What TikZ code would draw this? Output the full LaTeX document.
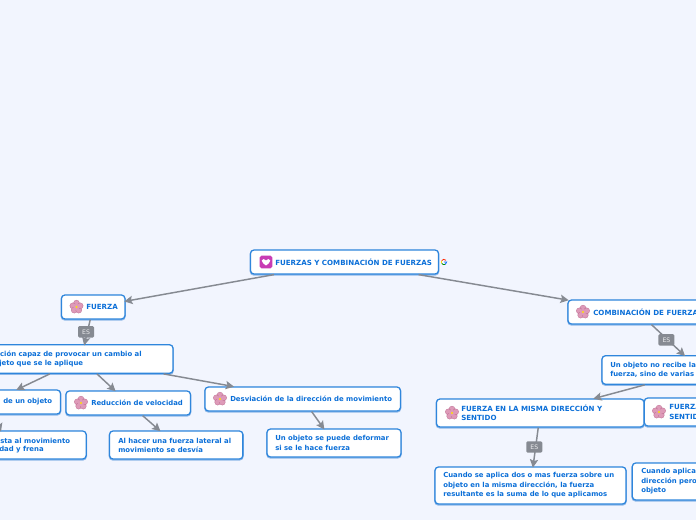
\documentclass[tikz,border=0pt]{standalone}
\usepackage{fontspec}
\setmainfont{DejaVu Sans}
\usetikzlibrary{arrows.meta}
\definecolor{bg}{HTML}{F2F5FE}
\definecolor{edge}{HTML}{2F86DC}
\definecolor{shad}{HTML}{8FB8E8}
\definecolor{ink}{HTML}{0B6FD8}
\definecolor{conn}{HTML}{868A92}
\definecolor{petal}{HTML}{DE9AB8}
\definecolor{petald}{HTML}{B9668C}
\definecolor{heartbg}{HTML}{C83CB4}
\tikzset{
  x=0.75pt,y=-0.75pt,
  box/.style={draw=edge,fill=white,line width=0.95pt,rounded corners=2.6pt,inner sep=0pt,
    preaction={draw=shad,line width=1.3pt,transform canvas={yshift=-0.6pt}}},
  txt/.style={anchor=west,text=ink,inner sep=0pt,align=left,font=\fontsize{5.17}{7.1}\selectfont\bfseries},
  caps/.style={txt,font=\fontsize{5.32}{7.1}\selectfont\bfseries},
  link/.style={draw=conn,line width=1.1pt,shorten >=-1pt,-{Stealth[length=6.2pt,width=6.2pt,inset=1.2pt]}},
  esbox/.style={fill=conn,rounded corners=1pt,text=white!85!conn,inner sep=0pt,minimum width=12pt,minimum height=8.6pt,xshift=-1pt,font=\fontsize{4.6}{5}\selectfont},
  pics/flower/.style={code={
    \foreach \a in {90,162,234,306,18}{\fill[petal,draw=petald,line width=.2pt] (\a:2.9pt) circle (2.25pt);}
    \fill[petal] (0,0) circle (2.4pt);
    \fill[yellow!85!orange] (0,0) circle (.8pt);
  }},
  pics/heart/.style={code={
    \fill[rounded corners=1.2pt,fill=heartbg] (-4.7pt,-4.7pt) rectangle (4.7pt,4.7pt);
    \fill[white] (0,-2.6pt) .. controls (-1pt,-1.6pt) and (-3.4pt,-0.6pt) .. (-3.2pt,1pt)
      .. controls (-3.1pt,2.6pt) and (-0.8pt,2.6pt) .. (0,1.2pt)
      .. controls (0.8pt,2.6pt) and (3.1pt,2.6pt) .. (3.2pt,1pt)
      .. controls (3.4pt,-0.6pt) and (1pt,-1.6pt) .. (0,-2.6pt) -- cycle;
  }},
}
\begin{document}
\begin{tikzpicture}
\fill[bg] (0,0) rectangle (696,520);
\useasboundingbox (0,0) rectangle (696,520);
\clip (0,0) rectangle (696,520);

% boxes
\node[box,minimum width=141pt,minimum height=18pt] (root) at (344.5,262) {};
\node[box,minimum width=47.6pt,minimum height=18pt] (fuerza) at (93.2,307) {};
\node[box,minimum width=138pt,minimum height=21.4pt] (def) at (81,359) {};
\node[box,minimum width=104.25pt,minimum height=18pt] (acel) at (-9,402) {};
\node[box,minimum width=93.4pt,minimum height=18pt] (redu) at (128.2,403) {};
\node[box,minimum width=146.6pt,minimum height=18pt] (desv) at (302.7,399) {};
\node[box,minimum width=121pt,minimum height=21pt] (sta) at (5.5,445) {};
\node[box,minimum width=100pt,minimum height=21pt] (hacer) at (176.2,445) {};
\node[box,minimum width=100.5pt,minimum height=21pt] (defo) at (334,443) {};
\node[box,minimum width=105pt,minimum height=18pt] (comb) at (638,312) {};
\node[box,minimum width=147pt,minimum height=21.4pt] (recibe) at (700,370) {};
\node[box,minimum width=155.6pt,minimum height=21pt] (misma) at (540.2,413) {};
\node[box,minimum width=130pt,minimum height=21pt] (opuesto) at (731,412) {};
\node[box,minimum width=143.2pt,minimum height=27.8pt] (suma) at (530.5,485.5) {};
\node[box,minimum width=130pt,minimum height=27.8pt] (cuando) at (719,481.5) {};

% connectors
\draw[link] (root) -- (fuerza);
\draw[link] (root) -- (comb);
\draw[link] (fuerza) -- node[esbox] (es1) {ES} (def);
\draw[link] (comb) -- node[esbox] (es2) {ES} (recibe);
\draw[link] (def) -- (acel);
\draw[link] (def) -- (redu);
\draw[link] (def) -- (desv);
\draw[link] (acel) -- (sta);
\draw[link] (redu) -- (hacer);
\draw[link] (desv) -- (defo);
\draw[link] (recibe) -- (misma);
\draw[link] (misma) -- node[esbox] (es3) {ES} (suma);

% icons
\pic at (266,262) {heart};
\pic at (76.5,307) {flower};
\pic at (81,403) {flower};
\pic at (220,399) {flower};
\pic at (583,312) {flower};
\pic at (452,413) {flower};
\pic at (659,412) {flower};

% google mark
\draw[line width=.6pt,red!70!orange] (444,262) ++(40:2pt) arc (40:150:2pt);
\draw[line width=.6pt,yellow!80!orange] (444,262) ++(150:2pt) arc (150:210:2pt);
\draw[line width=.6pt,green!55!black] (444,262) ++(210:2pt) arc (210:300:2pt);
\draw[line width=.6pt,blue!60!cyan] (444,262) ++(300:2pt) arc (300:360:2pt) -- ++(-2pt,0);

% texts
\node[caps] (t1) at (275,262) {FUERZAS Y COMBINACIÓN DE FUERZAS};
\node[caps] (t2) at (86,307) {FUERZA};
\node[txt,anchor=east] (t3) at (142,354.5) {ción capaz de provocar un cambio al};
\node[txt] (t3b) at (-1,363.5) {jeto que se le aplique};
\node[txt,anchor=east] (t4) at (52.5,402) {de un objeto};
\node[txt] (t5) at (91,403) {Reducción de velocidad};
\node[txt] (t6) at (230,399) {Desviación de la dirección de movimiento};
\node[txt] (t7) at (0,441) {sta al movimiento};
\node[txt] (t7b) at (-1,450) {dad y frena};
\node[txt] (t8) at (118,445.5) {Al hacer una fuerza lateral al\\movimiento se desvía};
\node[txt] (t9) at (275,443) {Un objeto se puede deformar\\si se le hace fuerza};
\node[caps] (t10) at (593,312) {COMBINACIÓN DE FUERZAS};
\node[txt] (t11) at (610,370) {Un objeto no recibe la\\fuerza, sino de varias};
\node[caps] (t12) at (461,413) {FUERZA EN LA MISMA DIRECCIÓN Y\\SENTIDO};
\node[caps] (t13) at (669,412) {FUERZA\\SENTIDO};
\node[txt] (t14) at (443,485.5) {Cuando se aplica dos o mas fuerza sobre un\\objeto en la misma dirección, la fuerza\\resultante es la suma de lo que aplicamos};
\node[txt] (t15) at (641,481.5) {Cuando aplica\\dirección pero\\objeto};
\end{tikzpicture}
\end{document}
